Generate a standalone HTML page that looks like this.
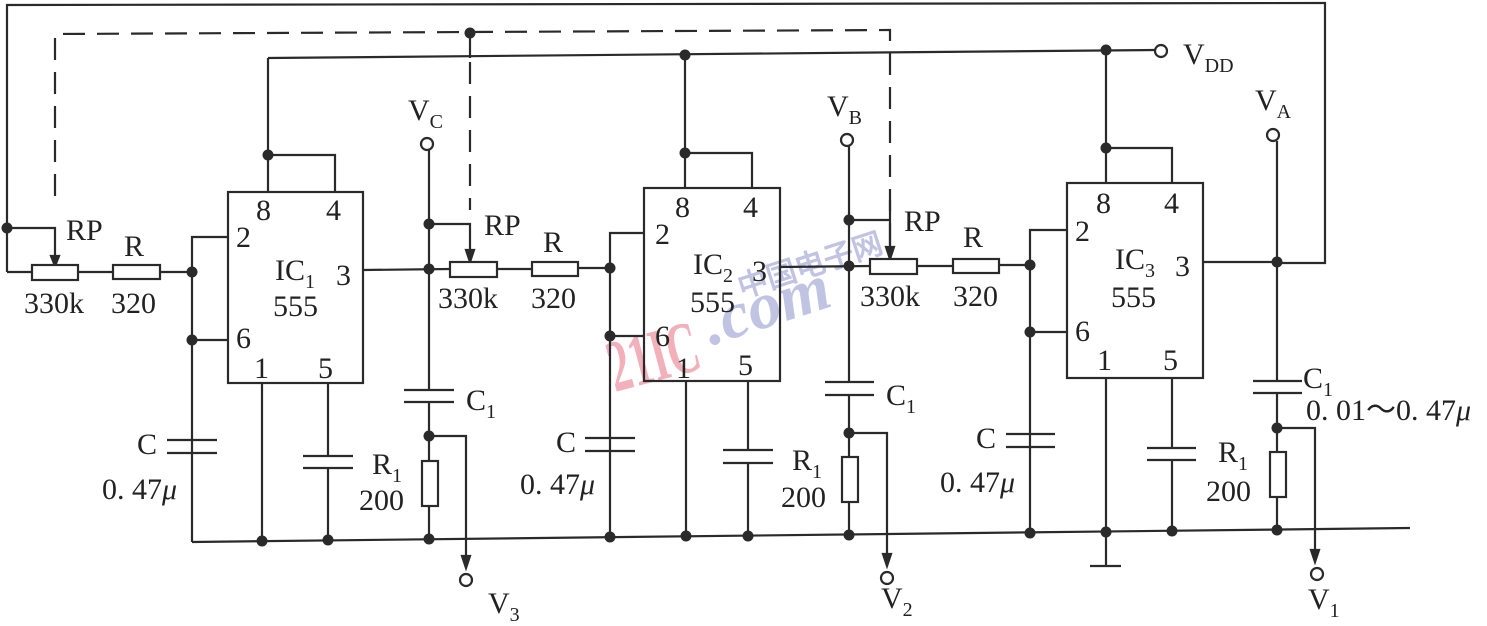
<!DOCTYPE html>
<html><head><meta charset="utf-8"><style>
html,body{margin:0;padding:0;background:#fff}
svg{display:block}
text{font-family:"Liberation Serif",serif;fill:#222}
</style></head><body>
<svg width="1487" height="626" viewBox="0 0 1487 626" xmlns="http://www.w3.org/2000/svg">
<!-- watermark -->
<g>
<text x="615" y="392" font-family="Liberation Sans,sans-serif" font-weight="bold" font-size="74" textLength="92" lengthAdjust="spacingAndGlyphs" transform="rotate(-15 615 392)" style="fill:#f2b0bb">21IC</text>
<text x="700" y="322" font-family="Liberation Sans,sans-serif" font-weight="bold" font-style="italic" font-size="66" transform="rotate(-18 780 300)" style="fill:#c0c4e2">.com</text>
<text x="735" y="285" font-family="Noto Sans CJK SC,sans-serif" font-weight="bold" font-size="30" transform="rotate(-18 780 270)" style="fill:#c0c4e2">中国电子网</text>
</g>
<g stroke="#2a2a2a" stroke-width="2.2" fill="none">
<polyline points="7,272 7,5 1325,3 1325,263 1277,263"/>
<polyline points="7,272 32,272"/>
<polyline points="7,228 55,228 55,260"/>
<polygon points="51,256 59,256 55,266" fill="#2a2a2a"/>
<polyline points="55,196 55,34 890,30 890,250" stroke-dasharray="22,12"/>
<line x1="470" y1="33" x2="470" y2="58"/>
<line x1="470" y1="62" x2="470" y2="210" stroke-dasharray="22,12"/>
<line x1="890" y1="200" x2="890" y2="256"/>
<polyline points="268,58 1155,50"/>
<circle cx="1161" cy="51" r="6" fill="#fff"/>
<polyline points="192,542 1410,528"/>
<rect x="228" y="192" width="135" height="191"/>
<polyline points="268,58 268,192"/>
<polyline points="268,155 335,155 335,192"/>
<polyline points="228,237 192,237 192,542"/>
<line x1="192" y1="340" x2="228" y2="340"/>
<line x1="363" y1="270" x2="450" y2="269"/>
<line x1="262" y1="383" x2="262" y2="541"/>
<polyline points="328,383 328,456"/><line x1="303" y1="456" x2="353" y2="456"/><line x1="303" y1="468" x2="353" y2="468"/><line x1="328" y1="468" x2="328" y2="541"/>
<line x1="167" y1="440" x2="217" y2="440"/><line x1="167" y1="453" x2="217" y2="453"/>
<rect x="32" y="265" width="46" height="15" fill="#fff"/>
<line x1="78" y1="272" x2="113" y2="272"/>
<rect x="113" y="265" width="47" height="14" fill="#fff"/>
<line x1="160" y1="272" x2="192" y2="272"/>
<circle cx="427" cy="144" r="6" fill="#fff"/>
<polyline points="429,150 429,390"/>
<line x1="404" y1="390" x2="454" y2="390"/><line x1="404" y1="402" x2="454" y2="402"/>
<polyline points="429,402 429,461"/>
<rect x="422" y="461" width="16" height="45" fill="#fff"/>
<line x1="429" y1="506" x2="429" y2="540"/>
<polyline points="429,436 466,436 466,566"/>
<polygon points="462,556 470,556 466,568" fill="#2a2a2a"/>
<circle cx="466" cy="580" r="6" fill="#fff"/>
<polyline points="429,224 470,224 470,252"/>
<polygon points="466,250 474,250 470,262" fill="#2a2a2a"/>
<rect x="450" y="262" width="47" height="15" fill="#fff"/>
<line x1="497" y1="269" x2="532" y2="269"/>
<rect x="532" y="262" width="46" height="14" fill="#fff"/>
<line x1="578" y1="268" x2="610" y2="268"/>
<rect x="644" y="188" width="136" height="193"/>
<polyline points="685,55 685,188"/>
<polyline points="685,153 752,153 752,188"/>
<polyline points="644,233 610,233 610,537"/>
<line x1="610" y1="336" x2="644" y2="336"/>
<line x1="780" y1="267" x2="870" y2="266"/>
<line x1="686" y1="381" x2="686" y2="537"/>
<polyline points="748,381 748,450"/><line x1="723" y1="450" x2="773" y2="450"/><line x1="723" y1="463" x2="773" y2="463"/><line x1="748" y1="463" x2="748" y2="536"/>
<line x1="585" y1="438" x2="635" y2="438"/><line x1="585" y1="451" x2="635" y2="451"/>
<circle cx="847" cy="140" r="6" fill="#fff"/>
<polyline points="849,146 849,382"/>
<line x1="825" y1="382" x2="874" y2="382"/><line x1="825" y1="395" x2="874" y2="395"/>
<polyline points="849,395 849,457"/>
<rect x="842" y="457" width="16" height="45" fill="#fff"/>
<line x1="849" y1="502" x2="849" y2="536"/>
<polyline points="849,433 887,433 887,564"/>
<polygon points="883,554 891,554 887,566" fill="#2a2a2a"/>
<circle cx="887" cy="578" r="6" fill="#fff"/>
<polyline points="849,220 890,220"/>
<polygon points="886,247 894,247 890,259" fill="#2a2a2a"/>
<rect x="870" y="259" width="47" height="15" fill="#fff"/>
<line x1="917" y1="266" x2="953" y2="266"/>
<rect x="953" y="259" width="46" height="14" fill="#fff"/>
<line x1="999" y1="265" x2="1030" y2="265"/>
<rect x="1067" y="183" width="136" height="195"/>
<polyline points="1106,50 1106,183"/>
<polyline points="1106,148 1172,148 1172,183"/>
<polyline points="1067,230 1030,230 1030,533"/>
<line x1="1030" y1="332" x2="1067" y2="332"/>
<line x1="1203" y1="262" x2="1277" y2="262"/>
<line x1="1106" y1="378" x2="1106" y2="566"/>
<line x1="1090" y1="566" x2="1121" y2="566"/>
<polyline points="1172,378 1172,448"/><line x1="1147" y1="448" x2="1196" y2="448"/><line x1="1147" y1="460" x2="1196" y2="460"/><line x1="1172" y1="460" x2="1172" y2="531"/>
<line x1="1006" y1="434" x2="1055" y2="434"/><line x1="1006" y1="447" x2="1055" y2="447"/>
<circle cx="1273" cy="135" r="6" fill="#fff"/>
<line x1="1277" y1="141" x2="1277" y2="381"/>
<line x1="1253" y1="381" x2="1302" y2="381"/><line x1="1253" y1="393" x2="1302" y2="393"/>
<polyline points="1277,393 1277,452"/>
<rect x="1270" y="452" width="16" height="45" fill="#fff"/>
<line x1="1277" y1="497" x2="1277" y2="530"/>
<polyline points="1277,428 1315,428 1315,560"/>
<polygon points="1311,550 1319,550 1315,562" fill="#2a2a2a"/>
<circle cx="1317" cy="574" r="6" fill="#fff"/>
</g>
<g fill="#2a2a2a">
<circle cx="7" cy="228" r="5.5"/><circle cx="192" cy="272" r="5.5"/><circle cx="192" cy="340" r="5.5"/><circle cx="268" cy="155" r="5.5"/>
<circle cx="262" cy="541" r="5.5"/><circle cx="328" cy="540" r="5.5"/><circle cx="429" cy="224" r="5.5"/><circle cx="429" cy="269" r="5.5"/>
<circle cx="429" cy="436" r="5.5"/><circle cx="429" cy="539" r="5.5"/><circle cx="470" cy="33" r="5.5"/><circle cx="685" cy="55" r="5.5"/>
<circle cx="685" cy="153" r="5.5"/><circle cx="610" cy="268" r="5.5"/><circle cx="610" cy="336" r="5.5"/><circle cx="610" cy="537" r="5.5"/>
<circle cx="686" cy="536" r="5.5"/><circle cx="748" cy="536" r="5.5"/><circle cx="849" cy="220" r="5.5"/><circle cx="849" cy="266" r="5.5"/>
<circle cx="849" cy="433" r="5.5"/><circle cx="849" cy="535" r="5.5"/><circle cx="1106" cy="50" r="5.5"/><circle cx="1106" cy="148" r="5.5"/>
<circle cx="1030" cy="265" r="5.5"/><circle cx="1030" cy="332" r="5.5"/><circle cx="1030" cy="533" r="5.5"/><circle cx="1106" cy="532" r="5.5"/>
<circle cx="1172" cy="531" r="5.5"/><circle cx="1277" cy="262" r="5.5"/><circle cx="1277" cy="428" r="5.5"/><circle cx="1277" cy="530" r="5.5"/>
</g>
<g font-size="30">
<text x="66" y="240">RP</text><text x="124" y="256">R</text>
<text x="24" y="313">330k</text><text x="111" y="313">320</text>
<text x="256" y="220">8</text><text x="326" y="220">4</text><text x="236" y="247">2</text><text x="236" y="348">6</text>
<text x="254" y="378">1</text><text x="318" y="378">5</text>
<text x="275" y="280">IC<tspan font-size="20" dy="8">1</tspan></text><text x="336" y="285">3</text><text x="273" y="316">555</text>
<text x="137" y="454">C</text><text x="102" y="499">0. 47<tspan font-style="italic">μ</tspan></text>
<text x="408" y="120">V<tspan font-size="20" dy="8">C</tspan></text>
<text x="466" y="410">C<tspan font-size="20" dy="8">1</tspan></text>
<text x="372" y="474">R<tspan font-size="20" dy="8">1</tspan></text><text x="359" y="510">200</text>
<text x="488" y="613">V<tspan font-size="20" dy="8">3</tspan></text>
<text x="484" y="235">RP</text><text x="543" y="252">R</text>
<text x="438" y="308">330k</text><text x="531" y="308">320</text>
<text x="675" y="217">8</text><text x="743" y="217">4</text><text x="655" y="244">2</text><text x="655" y="346">6</text>
<text x="676" y="378">1</text><text x="738" y="375">5</text>
<text x="693" y="274">IC<tspan font-size="20" dy="8">2</tspan></text><text x="752" y="281">3</text><text x="690" y="312">555</text>
<text x="556" y="452">C</text><text x="520" y="494">0. 47<tspan font-style="italic">μ</tspan></text>
<text x="827" y="116">V<tspan font-size="20" dy="8">B</tspan></text>
<text x="886" y="405">C<tspan font-size="20" dy="8">1</tspan></text>
<text x="792" y="470">R<tspan font-size="20" dy="8">1</tspan></text><text x="781" y="507">200</text>
<text x="881" y="608">V<tspan font-size="20" dy="8">2</tspan></text>
<text x="904" y="231">RP</text><text x="963" y="247">R</text>
<text x="860" y="306">330k</text><text x="953" y="306">320</text>
<text x="1096" y="213">8</text><text x="1164" y="213">4</text><text x="1075" y="241">2</text><text x="1075" y="341">6</text>
<text x="1097" y="370">1</text><text x="1163" y="370">5</text>
<text x="1115" y="269">IC<tspan font-size="20" dy="8">3</tspan></text><text x="1175" y="276">3</text><text x="1111" y="307">555</text>
<text x="976" y="448">C</text><text x="940" y="492">0. 47<tspan font-style="italic">μ</tspan></text>
<text x="1183" y="64">V<tspan font-size="20" dy="8">DD</tspan></text>
<text x="1255" y="110">V<tspan font-size="20" dy="8">A</tspan></text>
<text x="1303" y="388">C<tspan font-size="20" dy="8">1</tspan></text>
<text x="1306" y="420">0. 01～0. 47<tspan font-style="italic">μ</tspan></text>
<text x="1218" y="462">R<tspan font-size="20" dy="8">1</tspan></text><text x="1206" y="501">200</text>
<text x="1308" y="609">V<tspan font-size="20" dy="8">1</tspan></text>
</g>
</svg>
</body></html>
